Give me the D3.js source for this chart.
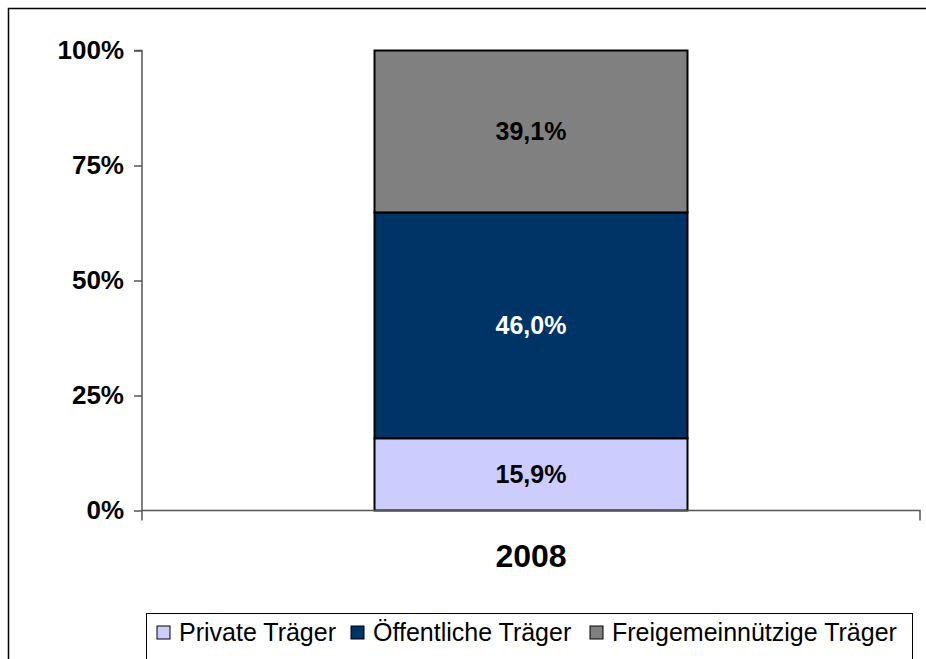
<!DOCTYPE html>
<html>
<head>
<meta charset="utf-8">
<script src="https://cdn.jsdelivr.net/npm/d3@7"></script>
<style>
  body { margin: 0; background: #fff; }
  svg { display: block; font-family: Arial, "Liberation Sans", sans-serif; }
</style>
</head>
<body>
<div id="chart"></div>
<script>
// Data
const categories = ["2008"];
const seriesNames = ["Private Träger", "Öffentliche Träger", "Freigemeinnützige Träger"];
// segment heights as drawn (share of the 100% bar)
const seriesValues = [15.7, 49.1, 35.2];
// labels printed on the segments
const seriesLabels = ["15,9%", "46,0%", "39,1%"];
const seriesColors = ["#CCCCFF", "#003366", "#808080"];
const labelColors = ["#000", "#fff", "#000"];
const yTicks = [0, 25, 50, 75, 100];

const width = 926, height = 659;
const plot = { left: 142, right: 920, top: 50.5, bottom: 510.5 };

const svg = d3.select("#chart")
  .append("svg")
  .attr("width", width)
  .attr("height", height);

// outer frame
svg.append("rect")
  .attr("x", 8.5).attr("y", 8.5)
  .attr("width", width + 20).attr("height", height + 20)
  .attr("fill", "none")
  .attr("stroke", "#000")
  .attr("stroke-width", 1.5);

// Scales
const x = d3.scaleBand().domain(categories).range([plot.left, plot.right]).paddingInner(0).paddingOuter(0.3);
const y = d3.scaleLinear().domain([0, 100]).range([plot.bottom, plot.top]);

// stacked segments
const stackData = [Object.fromEntries(seriesNames.map((s, i) => [s, seriesValues[i]]))];
const stacked = d3.stack().keys(seriesNames)(stackData);

const barW = 313;
const barX = x(categories[0]) + x.bandwidth() / 2 - barW / 2;

stacked.forEach((layer, i) => {
  const d = layer[0];
  svg.append("rect")
    .attr("x", barX)
    .attr("y", y(d[1]))
    .attr("width", barW)
    .attr("height", y(d[0]) - y(d[1]))
    .attr("fill", seriesColors[i])
    .attr("stroke", "#000")
    .attr("stroke-width", 2);

  svg.append("text")
    .attr("x", barX + barW / 2)
    .attr("y", (y(d[0]) + y(d[1])) / 2)
    .attr("dy", "0.36em")
    .attr("text-anchor", "middle")
    .attr("font-size", 25)
    .attr("font-weight", "bold")
    .attr("fill", labelColors[i])
    .text(seriesLabels[i]);
});

// y axis
const yAxis = svg.append("g")
  .attr("transform", `translate(${plot.left},0)`)
  .call(d3.axisLeft(y).tickValues(yTicks).tickSize(8).tickPadding(10).tickFormat(d => d + "%"));
yAxis.select(".domain").attr("stroke", "#555").attr("stroke-width", 1.5).attr("d", `M-8,${plot.top}H0V${plot.bottom + 10}`);
yAxis.selectAll(".tick line").attr("stroke", "#555").attr("stroke-width", 1.5);
yAxis.selectAll(".tick text")
  .attr("font-size", 26)
  .attr("font-weight", "bold")
  .attr("font-family", "Arial, 'Liberation Sans', sans-serif")
  .attr("fill", "#000");

// x axis
const xAxis = svg.append("g")
  .attr("transform", `translate(0,${plot.bottom})`)
  .call(d3.axisBottom(x).tickSize(0).tickPadding(34));
xAxis.select(".domain").attr("stroke", "#555").attr("stroke-width", 1.5)
  .attr("d", `M${plot.left},0H${plot.right}V10`);
xAxis.selectAll(".tick text")
  .attr("font-size", 32)
  .attr("font-weight", "bold")
  .attr("font-family", "Arial, 'Liberation Sans', sans-serif")
  .attr("fill", "#000");

// legend
const legend = svg.append("g");
legend.append("rect")
  .attr("x", 146.5).attr("y", 613.5)
  .attr("width", 766).attr("height", 60)
  .attr("fill", "#fff")
  .attr("stroke", "#000")
  .attr("stroke-width", 1);

const legendX = [157, 351, 590];
seriesNames.forEach((name, i) => {
  const g = legend.append("g").attr("transform", `translate(${legendX[i]},626)`);
  g.append("rect")
    .attr("width", 13).attr("height", 13)
    .attr("fill", seriesColors[i])
    .attr("stroke", "#000")
    .attr("stroke-width", 1);
  g.append("text")
    .attr("x", 22)
    .attr("y", 15)
    .attr("font-size", 25)
    .attr("fill", "#000")
    .text(name);
});
</script>
</body>
</html>
